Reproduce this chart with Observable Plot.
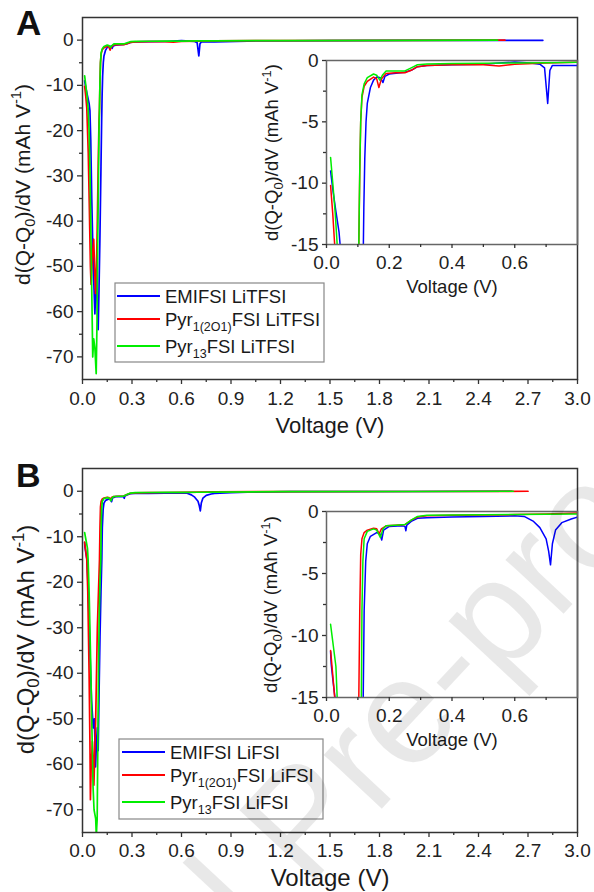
<!DOCTYPE html>
<html><head><meta charset="utf-8">
<script src="https://cdn.jsdelivr.net/npm/d3@7"></script>
<script src="https://cdn.jsdelivr.net/npm/@observablehq/plot@0.6"></script>
<style>
body{margin:0;background:#fff;}
#wrap{position:relative;width:594px;height:892px;overflow:hidden;}
#wrap svg{position:absolute;}
</style></head><body><div id="wrap"></div>
<script>
// ---------- DATA (voltage V, d(Q-Q0)/dV mAh/V) ----------
// Panel A (LiTFSI)
const emifsiLiTFSI = [[0.013,-9.0],[0.02,-10.5],[0.03,-12.3],[0.04,-14],[0.045,-15.5],[0.05,-22],[0.056,-35],[0.062,-45],[0.068,-53],[0.075,-60.5],[0.08,-56],[0.086,-52],[0.09,-58],[0.095,-64],[0.1,-55],[0.105,-45],[0.112,-28],[0.116,-18],[0.119,-12],[0.122,-8],[0.126,-5],[0.13,-3.5],[0.14,-2.2],[0.15,-1.6],[0.16,-1.35],[0.172,-1.4],[0.18,-1.8],[0.186,-1.3],[0.2,-1.1],[0.25,-0.95],[0.27,-0.8],[0.29,-0.5],[0.32,-0.4],[0.4,-0.35],[0.5,-0.3],[0.55,-0.2],[0.6,-0.12],[0.65,-0.2],[0.68,-0.3],[0.695,-0.6],[0.705,-3.5],[0.712,-0.8],[0.72,-0.4],[0.8,-0.4],[1.0,-0.2],[1.5,-0.1],[2.0,-0.05],[2.79,-0.05]];
const pyr12o1LiTFSI = [[0.013,-10.2],[0.02,-12.5],[0.026,-15],[0.035,-25],[0.042,-38],[0.048,-50],[0.052,-54],[0.06,-48],[0.068,-44],[0.075,-52],[0.079,-56],[0.085,-50],[0.09,-40],[0.095,-28],[0.1,-18],[0.103,-15],[0.106,-9],[0.109,-5],[0.113,-3],[0.12,-2.1],[0.13,-1.7],[0.15,-1.35],[0.16,-1.5],[0.167,-2.2],[0.175,-1.5],[0.19,-1.05],[0.22,-1.0],[0.25,-1.0],[0.27,-0.8],[0.29,-0.5],[0.32,-0.4],[0.4,-0.35],[0.5,-0.35],[0.55,-0.45],[0.6,-0.3],[0.7,-0.2],[0.8,-0.15],[1.2,-0.1],[2.0,-0.05],[2.56,0]];
const pyr13LiTFSI = [[0.013,-7.9],[0.02,-10],[0.028,-12.5],[0.034,-15],[0.04,-20],[0.046,-30],[0.052,-45],[0.058,-60],[0.062,-70],[0.068,-66],[0.075,-68],[0.083,-73.7],[0.088,-62],[0.092,-45],[0.097,-30],[0.1,-20],[0.103,-15],[0.106,-9],[0.109,-5],[0.113,-2.8],[0.12,-1.9],[0.13,-1.4],[0.15,-1.1],[0.16,-1.2],[0.17,-1.6],[0.178,-1.2],[0.19,-0.85],[0.22,-0.85],[0.25,-0.85],[0.27,-0.6],[0.29,-0.35],[0.32,-0.28],[0.4,-0.25],[0.5,-0.22],[0.6,-0.2],[0.7,-0.18],[0.8,-0.15],[1.2,-0.1],[2.0,-0.05],[2.515,0]];
// Panel B (LiFSI)
const emifsiLiFSI = [[0.013,-11.3],[0.015,-12.3],[0.02,-13.5],[0.027,-15],[0.035,-22],[0.045,-35],[0.055,-46],[0.065,-52],[0.072,-50],[0.079,-60.6],[0.085,-55],[0.09,-52],[0.095,-57],[0.1,-45],[0.106,-32],[0.112,-22],[0.117,-15],[0.12,-8],[0.125,-4],[0.13,-2.6],[0.14,-2.0],[0.16,-1.7],[0.17,-1.8],[0.176,-2.3],[0.182,-1.5],[0.2,-1.2],[0.24,-1.15],[0.25,-1.2],[0.253,-1.55],[0.256,-1.1],[0.27,-0.8],[0.29,-0.55],[0.32,-0.5],[0.4,-0.45],[0.5,-0.4],[0.6,-0.35],[0.63,-0.4],[0.66,-0.8],[0.68,-1.3],[0.7,-2.2],[0.708,-3.2],[0.714,-4.3],[0.72,-2.6],[0.73,-1.5],[0.75,-0.9],[0.78,-0.6],[0.8,-0.45],[0.9,-0.3],[1.0,-0.2],[1.26,-0.1],[2.0,-0.05],[2.6,0]];
const pyr12o1LiFSI = [[0.013,-11.2],[0.02,-13.2],[0.026,-15],[0.032,-22],[0.04,-40],[0.045,-55],[0.048,-67.8],[0.053,-60],[0.06,-55],[0.066,-60],[0.069,-64.6],[0.074,-58],[0.08,-50],[0.085,-40],[0.09,-30],[0.097,-22],[0.103,-15],[0.106,-8],[0.109,-3.5],[0.113,-2.2],[0.12,-1.7],[0.13,-1.5],[0.15,-1.35],[0.16,-1.4],[0.168,-1.8],[0.175,-1.4],[0.19,-1.15],[0.22,-1.1],[0.25,-1.05],[0.27,-0.7],[0.29,-0.45],[0.32,-0.35],[0.4,-0.3],[0.5,-0.28],[0.6,-0.25],[0.7,-0.2],[0.8,-0.12],[1.2,-0.08],[2.0,-0.05],[2.7,0]];
const pyr13LiFSI = [[0.013,-9.1],[0.02,-10.5],[0.03,-12.5],[0.034,-15],[0.04,-22],[0.048,-35],[0.056,-50],[0.064,-65],[0.07,-70],[0.075,-71],[0.08,-72],[0.084,-76],[0.086,-74],[0.089,-72],[0.093,-55],[0.097,-40],[0.101,-28],[0.106,-20],[0.111,-15],[0.113,-8],[0.116,-4],[0.12,-2.2],[0.13,-1.6],[0.15,-1.4],[0.16,-1.5],[0.172,-2.1],[0.18,-1.4],[0.19,-1.15],[0.22,-1.1],[0.25,-1.05],[0.27,-0.7],[0.29,-0.4],[0.32,-0.3],[0.4,-0.28],[0.5,-0.26],[0.6,-0.24],[0.7,-0.22],[0.8,-0.2],[1.2,-0.1],[2.0,-0.05],[2.61,0]];

const seriesColors = ["#0000ff", "#ff0000", "#00ee00"];
const legendA = [["EMIFSI LiTFSI"], ["Pyr", "1(2O1)", "FSI LiTFSI"], ["Pyr", "13", "FSI LiTFSI"]];
const legendB = [["EMIFSI LiFSI"], ["Pyr", "1(2O1)", "FSI LiFSI"], ["Pyr", "13", "FSI LiFSI"]];
const panelLetters = ["A", "B"];
const watermark = "Journal Pre-proof";
const xLabel = "Voltage (V)";
const yLabel = "d(Q-Q0)/dV (mAh V-1)";

// ticks
const mainXTicks = [0, 0.3, 0.6, 0.9, 1.2, 1.5, 1.8, 2.1, 2.4, 2.7, 3.0];
const mainXMinor = [0.15, 0.45, 0.75, 1.05, 1.35, 1.65, 1.95, 2.25, 2.55, 2.85];
const mainYTicks = [0, -10, -20, -30, -40, -50, -60, -70];
const mainYMinor = [-5, -15, -25, -35, -45, -55, -65];
const insetXTicks = [0, 0.2, 0.4, 0.6];
const insetXMinor = [0.1, 0.3, 0.5, 0.7];
const insetYTicks = [0, -5, -10, -15];
const insetYMinor = [-2.5, -7.5, -12.5];

const FONT = '"Liberation Sans", Arial, Helvetica, sans-serif';
const wrap = document.getElementById("wrap");

function richY(fs) {
  const sub = (0.22 * fs).toFixed(1), sup = (0.42 * fs).toFixed(1);
  return `d(Q-Q<tspan dy="${sub}" font-size="${(fs*0.7).toFixed(1)}">0</tspan><tspan dy="-${sub}">)/dV (mAh V</tspan><tspan dy="-${sup}" font-size="${(fs*0.7).toFixed(1)}">-1</tspan><tspan dy="${sup}">)</tspan>`;
}
function richify(svg, key, html) {
  svg.querySelectorAll("text").forEach(t => { if (t.textContent === key) t.innerHTML = html; });
}

function panel({series, xDomain, yDomain, xTicks, xMinor, yTicks, yMinor, xFmt, width, height, ml, mr, mt, mb,
  left, top, lw, frameColor, tickFs, tickPadX, majorLen, minorLen, ylFs, ylDx, ylDy, xlFs, xlDy}) {
  const svg = Plot.plot({
    width, height, marginLeft: ml, marginRight: mr, marginTop: mt, marginBottom: mb,
    style: {fontFamily: FONT, fontSize: tickFs + "px", color: "#222", background: "transparent", overflow: "visible"},
    x: {domain: xDomain},
    y: {domain: yDomain},
    marks: [
      ...series.map((s, i) => Plot.line(s, {x: d => d[0], y: d => d[1], stroke: seriesColors[i], strokeWidth: lw, clip: true})),
      Plot.frame({stroke: frameColor, strokeWidth: 1.5}),
      Plot.axisY({ticks: yTicks, tickSize: majorLen, tickPadding: 4, tickFormat: d => String(d), label: null, stroke: "#333", strokeWidth: 1.3}),
      Plot.axisY({ticks: yMinor, tickSize: minorLen, tickFormat: () => "", label: null, stroke: "#333", strokeWidth: 1.3}),
      Plot.axisX({ticks: xTicks, tickSize: majorLen, tickPadding: tickPadX, tickFormat: xFmt, label: null, stroke: "#333", strokeWidth: 1.3}),
      Plot.axisX({ticks: xMinor, tickSize: minorLen, tickFormat: () => "", label: null, stroke: "#333", strokeWidth: 1.3}),
      Plot.text([yLabel], {text: d => d, frameAnchor: "left", textAnchor: "middle", lineAnchor: "middle", rotate: -90, dx: ylDx, dy: ylDy, fontSize: ylFs, fill: "#1a1a1a"}),
      Plot.text([xLabel], {text: d => d, frameAnchor: "bottom", textAnchor: "middle", lineAnchor: "middle", dy: xlDy, fontSize: xlFs, fill: "#1a1a1a"})
    ]
  });
  richify(svg, yLabel, richY(ylFs));
  svg.style.left = left + "px";
  svg.style.top = top + "px";
  wrap.appendChild(svg);
}

const f1 = d3.format(".1f");
// Panel A main
panel({series: [emifsiLiTFSI, pyr12o1LiTFSI, pyr13LiTFSI], xDomain: [0, 3], yDomain: [-75, 5],
  xTicks: mainXTicks, xMinor: mainXMinor, yTicks: mainYTicks, yMinor: mainYMinor, xFmt: f1,
  width: 594, height: 440, ml: 82, mr: 17, mt: 17, mb: 61, left: 0, top: 0, lw: 1.7, frameColor: "#333",
  tickFs: 19, tickPadX: 7, majorLen: 5, minorLen: 3, ylFs: 21, ylDx: -59, ylDy: -14, xlFs: 22, xlDy: 46});
// Panel A inset
panel({series: [emifsiLiTFSI, pyr12o1LiTFSI, pyr13LiTFSI], xDomain: [0, 0.8], yDomain: [-15, 0],
  xTicks: insetXTicks, xMinor: insetXMinor, yTicks: insetYTicks, yMinor: insetYMinor, xFmt: f1,
  width: 344, height: 280, ml: 76, mr: 17, mt: 30, mb: 66, left: 250, top: 30, lw: 1.5, frameColor: "#666",
  tickFs: 19, tickPadX: 7, majorLen: 4, minorLen: 3, ylFs: 18.5, ylDx: -54, ylDy: 0, xlFs: 18.5, xlDy: 43});
// Panel B main
panel({series: [emifsiLiFSI, pyr12o1LiFSI, pyr13LiFSI], xDomain: [0, 3], yDomain: [-75, 5],
  xTicks: mainXTicks, xMinor: mainXMinor, yTicks: mainYTicks, yMinor: mainYMinor, xFmt: f1,
  width: 594, height: 452, ml: 82, mr: 17, mt: 28, mb: 60, left: 0, top: 440, lw: 1.7, frameColor: "#333",
  tickFs: 19, tickPadX: 6, majorLen: 5, minorLen: 3, ylFs: 24, ylDx: -56, ylDy: -11, xlFs: 24, xlDy: 46});
// Panel B inset
panel({series: [emifsiLiFSI, pyr12o1LiFSI, pyr13LiFSI], xDomain: [0, 0.8], yDomain: [-15, 0],
  xTicks: insetXTicks, xMinor: insetXMinor, yTicks: insetYTicks, yMinor: insetYMinor, xFmt: f1,
  width: 344, height: 280, ml: 76, mr: 17, mt: 30, mb: 64, left: 250, top: 481, lw: 1.5, frameColor: "#666",
  tickFs: 19, tickPadX: 7, majorLen: 4, minorLen: 3, ylFs: 18.5, ylDx: -55, ylDy: 0, xlFs: 18.5, xlDy: 43});

// ---------- overlay: legends, panel letters, watermark ----------
const ov = d3.select(wrap).append("svg").attr("width", 594).attr("height", 892)
  .style("left", "0px").style("top", "0px").style("pointer-events", "none")
  .attr("font-family", FONT);

function legend(items, box, lineX0, lineX1, textX, rowsY, baseY) {
  ov.append("rect").attr("x", box[0]).attr("y", box[1]).attr("width", box[2]).attr("height", box[3])
    .attr("fill", "#fff").attr("stroke", "#888").attr("stroke-width", 1.2);
  items.forEach((parts, i) => {
    ov.append("line").attr("x1", lineX0).attr("x2", lineX1).attr("y1", rowsY[i]).attr("y2", rowsY[i])
      .attr("stroke", seriesColors[i]).attr("stroke-width", 2);
    const t = ov.append("text").attr("x", textX).attr("y", baseY[i]).attr("font-size", 18.5).attr("fill", "#1a1a1a");
    if (parts.length === 1) t.text(parts[0]);
    else {
      t.append("tspan").text(parts[0]);
      t.append("tspan").attr("dy", 5).attr("font-size", 12.5).text(parts[1]);
      t.append("tspan").attr("dy", -5).text(parts[2]);
    }
  });
}
legend(legendA, [115, 283, 209, 79], 117, 160, 165, [296, 319, 346], [303, 325.5, 352.5]);
legend(legendB, [119, 739, 204, 80], 122, 165, 170, [752, 775, 802], [758.5, 781.5, 808.5]);

ov.append("text").attr("x", 16).attr("y", 35).attr("font-size", 35).attr("font-weight", "bold").attr("fill", "#111").text(panelLetters[0]);
ov.append("text").attr("x", 16).attr("y", 487).attr("font-size", 34).attr("font-weight", "bold").attr("fill", "#111").text(panelLetters[1]);

// watermark
const tmp = ov.append("text").attr("font-size", 150).text("Journal ");
const wJ = tmp.node().getComputedTextLength();
tmp.remove();
ov.append("text").attr("font-size", 150).attr("fill", "#000").attr("fill-opacity", 0.09)
  .attr("transform", "translate(278,920) rotate(-47)").attr("x", -wJ).attr("y", 0).text(watermark);
</script></body></html>
